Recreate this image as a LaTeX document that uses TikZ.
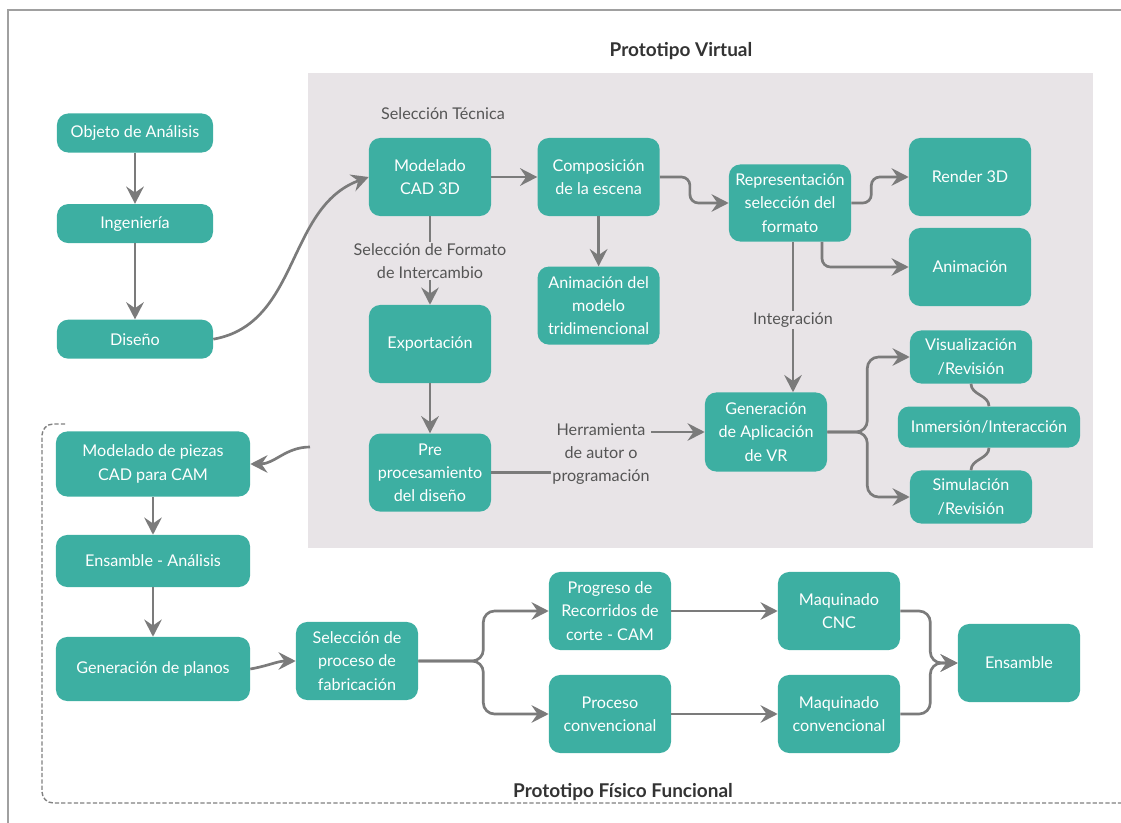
\documentclass[tikz,border=0pt]{standalone}
\usepackage{fontspec}
\setmainfont{Lato}
\usetikzlibrary{arrows.meta,positioning}
\definecolor{tealbox}{HTML}{3DAFA2}
\definecolor{panel}{HTML}{E8E4E7}
\definecolor{wire}{HTML}{7B7B7B}
\definecolor{lbl}{HTML}{555555}
\definecolor{framec}{HTML}{A0A0A0}

\begin{document}
\begin{tikzpicture}[x=0.025cm,y=-0.025cm,font=\fontsize{11.5}{16.5}\selectfont,
  box/.style={fill=tealbox,text=white,rounded corners=8pt,align=center,
              minimum width=3.05cm,minimum height=1.95cm,inner sep=2pt},
  lbox/.style={box,minimum width=3.9cm,minimum height=0.975cm},
  pbox/.style={box,minimum width=4.85cm},
  note/.style={text=lbl,align=center,inner sep=1pt},
  title/.style={text=black!80,font=\fontsize{13.5}{16}\selectfont\bfseries},
  w/.style={-{Stealth[length=4.3mm,width=4.4mm,inset=1.5mm]},wire,line width=1.9pt},
  ln/.style={wire,line width=1.9pt}]
  \useasboundingbox (0,0) rectangle (1121,823);
  % frames
  \draw[framec,line width=1.2pt] (8,823) -- (8,10) -- (1121,10);
  \fill[panel] (308,73) rectangle (1093,548);
  \draw[gray,line width=1pt,dash pattern=on 3pt off 1.5pt,rounded corners=8pt]
       (65,424) -- (42,424) -- (42,803) -- (1121,803);
  \node[title] (tv) at (681,51) {Prototipo Virtual};
  \node[title] (tf) at (623,792) {Prototipo Físico Funcional};

  % design chain
  \node[lbox] (obj) at (135,133) {Objeto de Análisis};
  \node[lbox,below=1.275cm of obj] (ing) {Ingeniería};
  \node[lbox,below=1.9cm of ing] (dis) {Diseño};

  % virtual prototype
  \node[box] (mod) at (430,177) {Modelado\\CAD 3D};
  \node[box,right=1.15cm of mod] (comp) {Composición\\de la escena};
  \node[box,minimum height=1.925cm] (rep) at (790,203) {Representación\\selección del\\formato};
  \node[box] (rend) at (970,177) {Render 3D};
  \node[box] (anim) at (970,267) {Animación};
  \node[box,below=1.25cm of comp] (animod) {Animación del\\modelo\\tridimencional};
  \node[box] (exp) at (430,344) {Exportación};
  \node[box,below=1.25cm of exp] (pre) {Pre\\procesamiento\\del diseño};
  \node[box,minimum height=1.975cm] (gen) at (766,432) {Generación\\de Aplicación\\de VR};
  \node[box,minimum height=1.325cm] (vis) at (971,357) {Visualización\\/Revisión};
  \node[box,minimum width=4.55cm,minimum height=1.025cm] (inm) at (989,427) {Inmersión/Interacción};
  \node[box,minimum height=1.325cm] (sim) at (971,497) {Simulación\\/Revisión};
  \node[note] (tec) at (443,114) {Selección Técnica};
  \node[note] (fmt) at (430,261) {Selección de Formato\\de Intercambio};
  \node[note] (integ) at (793,320) {Integración};
  \node[note] (herr) at (601,454) {Herramienta\\de autor o\\programación};

  % physical prototype
  \node[pbox,minimum height=1.625cm] (pie) at (153,464) {Modelado de piezas\\CAD para CAM};
  \node[pbox,minimum height=1.3cm] (ensa) at (153,561) {Ensamble - Análisis};
  \node[pbox,minimum height=1.6cm] (plan) at (153,669) {Generación de planos};
  \node[box] (sel) at (357,661) {Selección de\\proceso de\\fabricación};
  \node[box] (prog) at (610,611) {Progreso de\\Recorridos de\\corte - CAM};
  \node[box] (proc) at (610,714) {Proceso\\convencional};
  \node[box] (cnc) at (839,611) {Maquinado\\CNC};
  \node[box] (conv) at (839,714) {Maquinado\\convencional};
  \node[box] (ens) at (1019,663) {Ensamble};
  \coordinate (vout) at (310,447);

  % connectors
  \draw[w] (obj) -- (ing);
  \draw[w] (ing) -- (dis);
  \draw[w] (dis.east) to[out=10,in=200] (mod.west);
  \draw[w] (mod) -- (comp);
  \draw[w,rounded corners=6pt] (comp.east) -- ++(30,0) |- (rep.west);
  \draw[w,rounded corners=6pt] (rep.east) -- ++(20,0) |- (rend.west);
  \draw[w,rounded corners=6pt] ([xshift=0.8cm]rep.south) |- (anim.west);
  \draw[ln] (mod) -- (fmt);
  \draw[w] (fmt) -- (exp);
  \draw[w] (comp) -- (animod);
  \draw[w] (exp) -- (pre);
  \draw[ln] (pre.east) -- (pre.east -| herr.west);
  \draw[w] (herr.east |- gen.west) -- (gen.west);
  \draw[ln] (integ.north |- rep.south) -- (integ);
  \draw[w] (integ) -- (integ |- gen.north);
  \draw[w,rounded corners=8pt] (gen.east) -- ++(40,0) |- (vis.west);
  \draw[w,rounded corners=8pt] (gen.east) -- ++(40,0) |- (sim.west);
  \draw[ln] (vis.south) to[out=-90,in=90] (inm.north);
  \draw[ln] (inm.south) to[out=-90,in=90] (sim.north);
  \draw[w] (vout) to[out=180,in=0] (pie.east);
  \draw[w] (pie) -- (ensa);
  \draw[w] (ensa) -- (plan);
  \draw[w] (plan.east) to[out=10,in=180] (sel.west);
  \draw[w,rounded corners=8pt] (sel.east) -- ++(65,0) |- (prog.west);
  \draw[w,rounded corners=8pt] (sel.east) -- ++(65,0) |- (proc.west);
  \draw[w] (prog) -- (cnc);
  \draw[w] (proc) -- (conv);
  \draw[w,rounded corners=8pt] (cnc.east) -- ++(30,0) |- (ens.west);
  \draw[w,rounded corners=8pt] (conv.east) -- ++(30,0) |- (ens.west);
\end{tikzpicture}
\end{document}
